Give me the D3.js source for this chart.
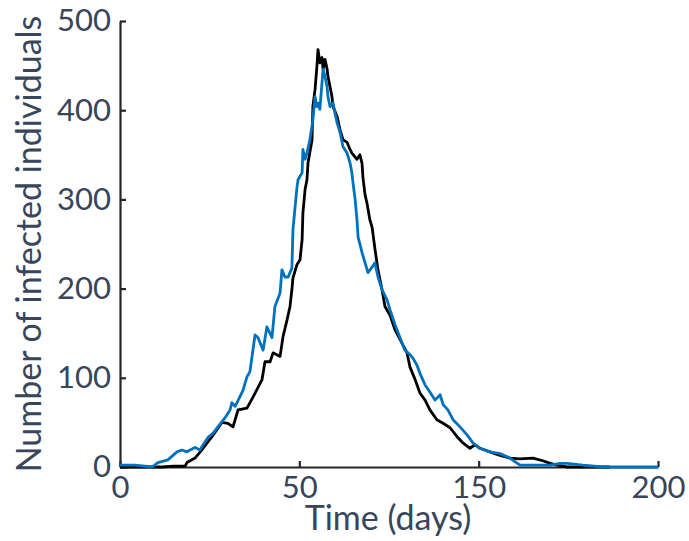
<!DOCTYPE html>
<html>
<head>
<meta charset="utf-8">
<script src="https://cdn.jsdelivr.net/npm/d3@7"></script>
<style>
  body { margin: 0; background: #fff; }
  svg { display: block; }
</style>
</head>
<body>
<div id="chart"></div>
<script>
// Data (day, number infected)
const blackDays = [0, 10, 15.6, 20, 24.2, 24.9, 27.9, 30.9, 34.2, 37.9, 40.1, 42, 43.9, 47.2, 49.4, 52.8, 53.9, 55.8, 56.9, 59.5, 60.6, 62.1, 63.2, 63.9, 64.3, 65.8, 66.9, 67.7, 68, 68.8, 69.5, 69.9, 71.4, 71.7, 72.5, 73.2, 73.6, 74.3, 75.1, 75.5, 76.2, 77, 77.3, 78.1, 78.8, 79.2, 80.7, 81.8, 82.9, 84.4, 85.5, 86.2, 88.1, 89.2, 90, 90.3, 91.1, 91.8, 92.9, 93.7, 94.8, 95.9, 97.4, 98.5, 100.4, 102.2, 104.1, 106.7, 107.8, 109.7, 111.5, 113.4, 115.2, 117.8, 120.1, 122.7, 125.3, 127.5, 130.1, 132, 133.8, 137.5, 141.3, 145, 148.7, 153.5, 157.2, 159.9, 162.5, 166.2, 182];
const blackValues = [0, 0, 0, 1, 1, 5, 10, 21, 34, 50, 49, 45, 64, 66, 78, 98, 118, 118, 128, 124, 146, 165, 180, 199, 212, 227, 232, 255, 285, 311, 322, 341, 367, 404, 423, 449, 468, 453, 459, 446, 457, 446, 438, 426, 415, 404, 393, 378, 367, 364, 356, 352, 345, 350, 340, 325, 305, 296, 277, 269, 244, 221, 199, 180, 170, 154, 143, 128, 112, 98, 83, 75, 64, 53, 49, 44, 34, 27, 21, 25, 21, 17, 13, 10, 9, 10, 7, 4, 2, 0, 0];

const blueDays = [0, 5.6, 11.9, 14.1, 17.8, 21.2, 23, 24.9, 27.9, 29.7, 30.9, 32.7, 34.6, 36.4, 39, 40.9, 41.6, 42.8, 44.6, 45.7, 47.2, 48.3, 50.2, 51.3, 53.2, 54.6, 56.5, 57.6, 59.5, 60.2, 61.3, 62.5, 63.9, 64.3, 65.1, 65.8, 66.2, 67.7, 68, 68.8, 69.5, 70.6, 71.7, 72.5, 73.2, 73.6, 74.3, 75.1, 75.5, 76.2, 77, 77.3, 78.1, 79.2, 79.9, 80.7, 81.8, 82.9, 84.4, 85.5, 86.2, 86.6, 87.4, 88.1, 88.5, 90, 91.1, 92.2, 93.7, 94.8, 95.9, 97.4, 99.3, 100.4, 102.2, 104.1, 105.9, 107.8, 108.9, 110.4, 111.5, 113.4, 115.2, 117.1, 119, 120.1, 121.9, 123.8, 126.4, 129, 131.2, 133.8, 137.5, 141.3, 145, 146.8, 148.7, 159.9, 163.6, 166.2, 172.1, 179.6, 200];
const blueValues = [2, 2, 0, 5, 8, 17, 19, 17, 22, 19, 25, 33, 38, 45, 55, 64, 72, 68, 79, 86, 101, 107, 148, 145, 131, 157, 145, 180, 195, 221, 213, 213, 223, 266, 292, 314, 322, 330, 356, 345, 352, 367, 389, 415, 404, 408, 401, 431, 446, 438, 426, 415, 404, 408, 397, 386, 375, 359, 352, 341, 330, 319, 300, 277, 258, 240, 229, 218, 224, 229, 213, 199, 187, 176, 160, 145, 131, 126, 122, 114, 105, 92, 84, 75, 81, 70, 64, 53, 45, 36, 27, 21, 17, 15, 10, 6, 2, 2, 4, 4, 2, 0, 0];

// the reference's x axis has four evenly spaced ticks labelled 0, 50, 150, 200
const xTickValues = [0, 200 / 3, 400 / 3, 200];
const xTickLabels = ["0", "50", "150", "200"];
const yTickValues = [0, 100, 200, 300, 400, 500];

const width = 689;
const height = 541;
const margin = { top: 21, right: 31, bottom: 74, left: 120 };
const font = "Lato, 'Open Sans', sans-serif";
const textColor = "#38455a";
const axisColor = "#262626";

const svg = d3.select("#chart").append("svg")
    .attr("width", width)
    .attr("height", height);

const x = d3.scaleLinear()
    .domain([0, 200])
    .range([margin.left, width - margin.right]);

const y = d3.scaleLinear()
    .domain([0, 500])
    .range([height - margin.bottom, margin.top]);

const line = d3.line()
    .x(d => x(d[0]))
    .y(d => y(d[1]));

const blackData = blackDays.map((d, i) => [d, blackValues[i]]);
const blueData = blueDays.map((d, i) => [d, blueValues[i]]);

// x axis
const xAxis = svg.append("g")
    .attr("transform", `translate(0, ${y(0)})`)
    .call(d3.axisBottom(x)
        .tickValues(xTickValues)
        .tickFormat((d, i) => xTickLabels[i])
        .tickSizeInner(-6)
        .tickSizeOuter(0)
        .tickPadding(9));

// y axis
const yAxis = svg.append("g")
    .attr("transform", `translate(${x(0)}, 0)`)
    .call(d3.axisLeft(y)
        .tickValues(yTickValues)
        .tickSizeInner(-6)
        .tickSizeOuter(0)
        .tickPadding(9));

[xAxis, yAxis].forEach(g => {
    g.select(".domain").attr("stroke", axisColor).attr("stroke-width", 2.2);
    g.selectAll(".tick line").attr("stroke", axisColor).attr("stroke-width", 2.2);
    g.selectAll(".tick text")
        .attr("fill", textColor)
        .style("font-family", font)
        .style("font-size", "31px");
});

// series lines
svg.append("path")
    .datum(blackData)
    .attr("fill", "none")
    .attr("stroke", "#000000")
    .attr("stroke-width", 2.8)
    .attr("stroke-linejoin", "round")
    .attr("d", line);

svg.append("path")
    .datum(blueData)
    .attr("fill", "none")
    .attr("stroke", "#0072BD")
    .attr("stroke-width", 2.8)
    .attr("stroke-linejoin", "round")
    .attr("d", line);

// axis labels
svg.append("text")
    .attr("x", (x(0) + x(200)) / 2 - 1)
    .attr("y", 530)
    .attr("text-anchor", "middle")
    .attr("fill", textColor)
    .style("font-family", font)
    .style("font-size", "34px")
    .text("Time (days)");

svg.append("text")
    .attr("transform", `translate(41, ${(y(0) + y(500)) / 2}) rotate(-90)`)
    .attr("text-anchor", "middle")
    .attr("fill", textColor)
    .style("font-family", font)
    .style("font-size", "34px")
    .text("Number of infected individuals");
</script>
</body>
</html>
